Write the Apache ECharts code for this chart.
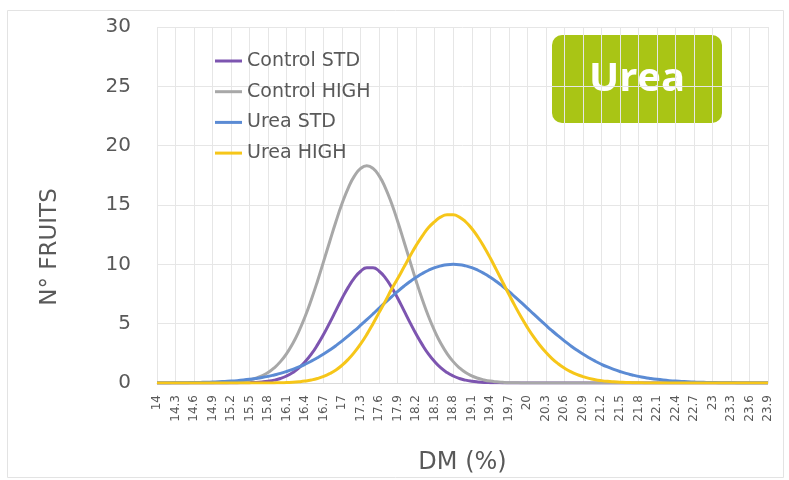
<!DOCTYPE html>
<html>
<head>
<meta charset="utf-8">
<script src="https://cdn.jsdelivr.net/npm/echarts@6/dist/echarts.min.js"></script>
<style>html,body{margin:0;padding:0;background:#fff}#c{width:789px;height:480px}</style>
</head>
<body>
<div id="c"></div>
<script>
// DM (%) categories, step 0.1
const categories = [14,14.1,14.2,14.3,14.4,14.5,14.6,14.7,14.8,14.9,15,15.1,15.2,15.3,15.4,15.5,15.6,15.7,15.8,15.9,
16,16.1,16.2,16.3,16.4,16.5,16.6,16.7,16.8,16.9,17,17.1,17.2,17.3,17.4,17.5,17.6,17.7,17.8,17.9,
18,18.1,18.2,18.3,18.4,18.5,18.6,18.7,18.8,18.9,19,19.1,19.2,19.3,19.4,19.5,19.6,19.7,19.8,19.9,
20,20.1,20.2,20.3,20.4,20.5,20.6,20.7,20.8,20.9,21,21.1,21.2,21.3,21.4,21.5,21.6,21.7,21.8,21.9,
22,22.1,22.2,22.3,22.4,22.5,22.6,22.7,22.8,22.9,23,23.1,23.2,23.3,23.4,23.5,23.6,23.7,23.8,23.9];

const controlStd = [0,0,0,0,0,0,0,0,0,0,0,0,0,
0.01,0.02,0.03,0.05,0.09,0.15,0.24,0.38,0.59,0.88,1.27,1.79,2.43,3.21,4.10,5.09,6.12,7.14,8.08,8.86,9.42,9.71,
9.71,9.42,8.86,8.08,7.14,6.12,5.09,4.10,3.21,2.43,1.79,1.27,0.88,0.59,0.38,0.24,0.15,0.09,0.05,0.03,0.02,0.01,
0,0,0,0,0,0,0,0,0,0,0,0,0,0,0,0,0,0,0,0,0,0,0,0,0,0,0,0,0,0,0,0,0,0,0,0,0,0,0,0,0,0,0];

const controlHigh = [0,0,0,0,0,0,0,0,0,
0.01,0.02,0.03,0.06,0.10,0.16,0.26,0.40,0.60,0.88,1.28,1.80,2.48,3.33,4.37,5.60,7.02,8.58,10.25,11.95,13.61,15.14,16.45,17.45,18.08,
18.3,
18.08,17.45,16.45,15.14,13.61,11.95,10.25,8.58,7.02,5.60,4.37,3.33,2.48,1.80,1.28,0.88,0.60,0.40,0.26,0.16,0.10,0.06,0.03,0.02,0.01,
0,0,0,0,0,0,0,0,0,0,0,0,0,0,0,0,0,0,0,0,0,0,0,0,0,0,0,0,0,0,0,0,0,0,0,0,0,0,0,0];

const ureaStd = [0,
0.01,0.01,0.02,0.02,0.03,0.04,0.05,0.06,0.08,0.10,0.13,0.16,0.20,0.25,0.31,0.38,0.46,0.56,0.68,0.81,
0.97,1.15,1.35,1.58,1.84,2.13,2.44,2.78,3.15,3.55,3.97,4.41,4.87,5.34,5.82,6.31,6.79,7.26,7.72,8.15,
8.55,8.91,9.23,9.50,9.72,9.87,9.97,
10.0,
9.97,9.87,9.72,9.50,9.23,8.91,8.55,8.15,7.72,7.26,6.79,6.31,5.82,5.34,4.87,4.41,3.97,3.55,3.15,2.78,
2.44,2.13,1.84,1.58,1.35,1.15,0.97,0.81,0.68,0.56,0.46,0.38,0.31,0.25,0.20,0.16,0.13,0.10,0.08,0.06,
0.05,0.04,0.03,0.02,0.02,0.01,0.01,
0,0,0,0];

const ureaHigh = [0,0,0,0,0,0,0,0,0,0,0,0,0,0,0,0,0,0,0,
0.01,0.02,0.04,0.06,0.10,0.16,0.25,0.38,0.56,0.80,1.10,1.50,2.00,2.60,3.30,4.10,5.00,5.95,6.90,7.90,
8.80,9.75,10.70,11.60,12.40,13.10,13.60,14.00,14.17,
14.17,13.98,13.59,13.02,12.30,11.46,10.53,9.53,8.51,7.49,6.50,5.56,4.69,3.90,3.20,2.59,2.06,1.62,1.26,0.96,
0.72,0.54,0.39,0.28,0.20,0.14,0.10,0.07,0.04,0.03,0.02,0.01,
0,0,0,0,0,0,0,0,0,0,0,0,0,0,0,0,0,0,0,0];

const seriesNames = ['Control STD','Control HIGH','Urea STD','Urea HIGH'];
const seriesValues = [controlStd, controlHigh, ureaStd, ureaHigh];
const seriesColors = ['#7d55b0','#a8a8a8','#5b8bd4','#f6c619'];

const FONT = 'DejaVu Sans';
const chart = echarts.init(document.getElementById('c'), null, {renderer:'canvas'});
chart.setOption({
  animation:false,
  backgroundColor:'#ffffff',
  grid:{left:157, right:21, top:27, bottom:95.5, containLabel:false},
  legend:{
    orient:'vertical', left:210, top:45, itemGap:8.7,
    itemWidth:27, itemHeight:3, icon:'rect',
    textStyle:{fontFamily:FONT, fontSize:19, color:'#595959', lineHeight:22},
    data:seriesNames
  },
  xAxis:{
    type:'category', data:categories, boundaryGap:false,
    axisLine:{show:true, lineStyle:{color:'#d9d9d9', width:1}},
    axisTick:{show:false},
    axisLabel:{interval:2, rotate:90, fontFamily:FONT, fontSize:12, color:'#595959', margin:12},
    splitLine:{show:true, interval:2, lineStyle:{color:'#e6e6e6', width:1}},
    name:'DM (%)', nameLocation:'middle', nameGap:68,
    nameTextStyle:{fontFamily:FONT, fontSize:24, color:'#595959', verticalAlign:'top'}
  },
  yAxis:{
    type:'value', min:0, max:30, interval:5,
    axisLine:{show:false}, axisTick:{show:false},
    axisLabel:{fontFamily:FONT, fontSize:20, color:'#595959', margin:26},
    splitLine:{show:true, lineStyle:{color:'#e6e6e6', width:1}}
  },
  series: seriesNames.map((n,i)=>({
    name:n, type:'line', data:seriesValues[i], smooth:true, symbol:'none',
    lineStyle:{width:3, color:seriesColors[i]}, itemStyle:{color:seriesColors[i]}
  })),
  graphic:[
    {type:'rect', silent:true, shape:{x:7.5, y:10.5, width:776, height:467}, style:{fill:'none', stroke:'#e3e3e3', lineWidth:1}, z:-10},
    {type:'rect', shape:{x:552, y:35, width:170, height:88, r:10}, style:{fill:'#a9c515'}},
    {type:'text', x:637, y:80, style:{text:'Urea', fill:'#ffffff', font:'bold 40px "Open Sans"', align:'center', verticalAlign:'middle'}},
    {type:'text', x:50, y:247, rotation:Math.PI/2, style:{text:'N° FRUITS', fill:'#595959', font:'23px "DejaVu Sans"', align:'center', verticalAlign:'middle'}}
  ]
});
</script>
</body>
</html>
